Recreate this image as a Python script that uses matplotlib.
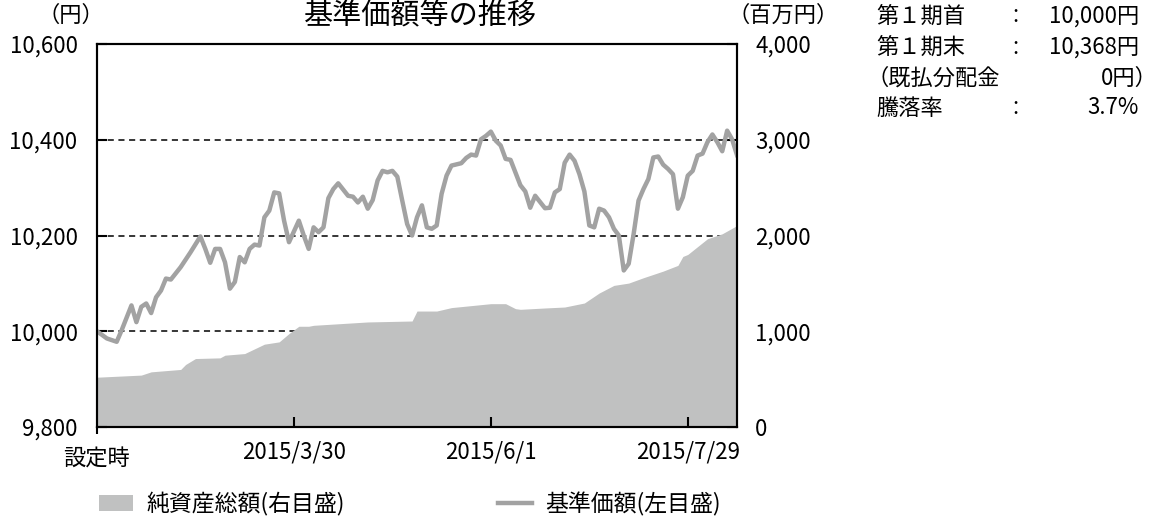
import matplotlib
matplotlib.use('Agg')
import matplotlib.pyplot as plt
from matplotlib.patches import Patch
from matplotlib.lines import Line2D
from matplotlib.ticker import FuncFormatter

plt.rcParams['font.family'] = ['Noto Sans CJK JP', 'DejaVu Sans']

# 基準価額 (円), x = trading day index from 設定時
nav_days = [0, 2, 4, 5, 7, 8, 9, 10, 11, 12, 13, 14, 15, 17, 19, 21, 22, 23, 24, 25,
            26, 27, 28, 29, 30, 31, 32, 33, 34, 35, 36, 37, 38, 39, 41, 42, 43, 44, 45, 46,
            47, 48, 49, 51, 52, 53, 54, 55, 56, 57, 58, 59, 60, 61, 62, 63, 64, 65, 66, 67,
            68, 69, 70, 71, 72, 74, 75, 76, 77, 78, 79, 80, 81, 82, 83, 84, 86, 87, 88, 89,
            91, 92, 93, 94, 95, 96, 97, 98, 99, 100, 101, 102, 103, 104, 105, 106, 107, 108, 109, 110,
            111, 112, 113, 114, 115, 116, 117, 118, 119, 120, 121, 122, 123, 124, 125, 126, 127, 128, 129, 130]
nav_values = [10000, 9985, 9978, 10002, 10054, 10019, 10051, 10058, 10038, 10071,
              10085, 10110, 10108, 10134, 10165, 10198, 10172, 10143, 10172, 10172,
              10144, 10089, 10103, 10155, 10144, 10172, 10181, 10179, 10238, 10252,
              10290, 10288, 10231, 10186, 10231, 10200, 10172, 10217, 10207, 10217,
              10278, 10297, 10309, 10283, 10281, 10269, 10281, 10256, 10274, 10315,
              10335, 10332, 10335, 10323, 10273, 10224, 10200, 10238, 10263, 10217,
              10214, 10221, 10287, 10325, 10346, 10351, 10362, 10369, 10367, 10401,
              10408, 10417, 10398, 10388, 10360, 10358, 10305, 10292, 10258, 10283,
              10257, 10258, 10290, 10297, 10352, 10369, 10356, 10328, 10292, 10221,
              10217, 10256, 10252, 10238, 10214, 10200, 10127, 10141, 10203, 10273,
              10297, 10318, 10363, 10365, 10348, 10339, 10328, 10256, 10280, 10325,
              10335, 10367, 10371, 10395, 10411, 10395, 10376, 10419, 10401, 10368]

# 純資産総額 (百万円)
aum_days = [0, 9, 11, 17, 18, 20, 25, 26, 30, 34, 37, 39, 41, 43, 44, 55, 64, 65, 69, 72,
            80, 83, 85, 86, 91, 95, 99, 102, 105, 108, 111, 115, 118, 119, 120, 124, 127, 130]
aum_values = [520, 542, 576, 601, 653, 715, 722, 750, 767, 865, 889, 976, 1052, 1052, 1062,
              1097, 1107, 1211, 1211, 1247, 1288, 1288, 1236, 1229, 1243, 1253, 1295, 1399,
              1479, 1503, 1559, 1628, 1688, 1781, 1802, 1966, 2018, 2104]

tick_days = [40, 80, 120]
tick_labels = ['2015/3/30', '2015/6/1', '2015/7/29']

AREA_COLOR = '#c0c1c1'
LINE_COLOR = '#a2a2a2'
FS = 16

W, H = 1160, 517
def fx(px):
    return px / W
def fy(py):
    return 1 - py / H

fig = plt.figure(figsize=(11.6, 5.17), dpi=100)
ax = fig.add_axes([fx(97), fy(427), fx(737) - fx(97), fy(44) - fy(427)])
ax2 = ax.twinx()

# area (right axis) below the price line
ax2.set_axisbelow(True)
ax2.fill_between(aum_days, 0, aum_values, color=AREA_COLOR, linewidth=0)
ax2.set_ylim(0, 4000)
ax2.set_yticks([0, 1000, 2000, 3000, 4000])
ax2.yaxis.grid(True, color='black', linestyle=(0, (4, 3)), linewidth=1.1)
ax2.yaxis.set_major_formatter(FuncFormatter(lambda v, p: f'{v:,.0f}'))
ax2.tick_params(axis='y', direction='in', length=7, width=1.5, pad=13, labelsize=FS)

ax.set_zorder(ax2.get_zorder() + 1)
ax.patch.set_visible(False)
ax.plot(nav_days, nav_values, color=LINE_COLOR, linewidth=3.2, solid_joinstyle='round')
ax.set_xlim(0, 130)
ax.set_ylim(9800, 10600)
ax.set_yticks([9800, 10000, 10200, 10400, 10600])
ax.yaxis.set_major_formatter(FuncFormatter(lambda v, p: f'{v:,.0f}'))
ax.tick_params(axis='y', direction='in', length=7, width=1.5, pad=14, labelsize=FS)
ax.set_xticks(tick_days)
ax.set_xticklabels(tick_labels)
ax.tick_params(axis='x', direction='in', length=7, width=1.5, pad=10, labelsize=FS)
ax.set_xticks([0], minor=True)
ax.tick_params(axis='x', which='minor', direction='out', length=5, width=1.5)

for a in (ax, ax2):
    for s in a.spines.values():
        s.set_linewidth(1.5)
        s.set_color('black')

ax.annotate('設定時', xy=(0, 0), xycoords=('data', 'axes fraction'),
            xytext=(0, -15), textcoords='offset points',
            ha='center', va='top', fontsize=FS)

# titles and axis units
fig.text(fx(420), fy(16), '基準価額等の推移', ha='center', va='center', fontsize=21)
fig.text(fx(71), fy(15), '（円）', ha='center', va='center', fontsize=FS)
fig.text(fx(783), fy(15), '（百万円）', ha='center', va='center', fontsize=FS)

# period summary
rows_y = [16, 47, 78, 108]
fig.text(fx(876), fy(rows_y[0]), '第１期首', ha='left', va='center', fontsize=FS)
fig.text(fx(1015), fy(rows_y[0]), ':', ha='center', va='center', fontsize=FS)
fig.text(fx(1139), fy(rows_y[0]), '10,000円', ha='right', va='center', fontsize=FS)
fig.text(fx(876), fy(rows_y[1]), '第１期末', ha='left', va='center', fontsize=FS)
fig.text(fx(1015), fy(rows_y[1]), ':', ha='center', va='center', fontsize=FS)
fig.text(fx(1139), fy(rows_y[1]), '10,368円', ha='right', va='center', fontsize=FS)
fig.text(fx(866), fy(rows_y[2]), '（既払分配金', ha='left', va='center', fontsize=FS)
fig.text(fx(1158), fy(rows_y[2]), '0円）', ha='right', va='center', fontsize=FS)
fig.text(fx(876), fy(rows_y[3]), '騰落率', ha='left', va='center', fontsize=FS)
fig.text(fx(1015), fy(rows_y[3]), ':', ha='center', va='center', fontsize=FS)
fig.text(fx(1139), fy(rows_y[3]), '3.7%', ha='right', va='center', fontsize=FS)

# legend entries placed separately
leg_kw = dict(frameon=False, fontsize=16.5, borderpad=0, borderaxespad=0,
              handlelength=1.5, handletextpad=0.55, loc='center left')
fig.legend([Patch(facecolor=AREA_COLOR, edgecolor='none')], ['純資産総額(右目盛)'],
           bbox_to_anchor=(fx(99), fy(504)), **leg_kw)
fig.legend([Line2D([], [], color=LINE_COLOR, linewidth=3.2)], ['基準価額(左目盛)'],
           bbox_to_anchor=(fx(498), fy(504)), **leg_kw)

fig.savefig('out.png', dpi=100)
